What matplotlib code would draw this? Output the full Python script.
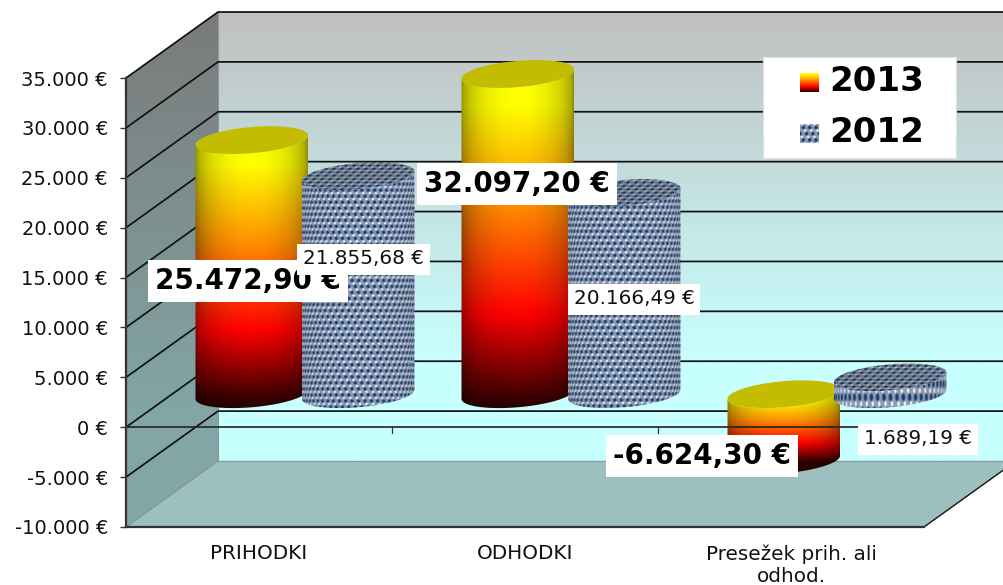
import numpy as np
import matplotlib
matplotlib.use('Agg')
import matplotlib.pyplot as plt
from matplotlib.patches import Polygon, Rectangle
from matplotlib.path import Path
from matplotlib.ticker import FuncFormatter

# data
categories = ['PRIHODKI', 'ODHODKI', 'Presežek prih. ali\nodhod.']
values_2013 = [25472.90, 32097.20, -6624.30]
values_2012 = [21855.68, 20166.49, 1689.19]
y_ticks = list(range(-10000, 35001, 5000))

W, H = 1004, 585
AX_L, AX_R, AX_T, AX_B = 126, 924, 78, 527
PX_X = 3 / (AX_R - AX_L)           # category units per pixel
PX_Y = 45000 / (AX_B - AX_T)       # euro per pixel
DX = 92 * PX_X                     # depth of the 3d box
DY = 66 * PX_Y
RX, RY, TILT = 56.5, 13.0, np.radians(5)

fig = plt.figure(figsize=(W / 100, H / 100), dpi=100)
ax = fig.add_axes([AX_L / W, 1 - AX_B / H, (AX_R - AX_L) / W, (AX_B - AX_T) / H])
ax.patch.set_visible(False)


def money(v, dec=0):
    s = f'{v:,.{dec}f}'.replace(',', '#').replace('.', ',').replace('#', '.')
    return s + ' €'


def clipped_image(rgb, extent, path, z, interp='bilinear'):
    im = ax.imshow(rgb, extent=extent, aspect='auto', zorder=z, interpolation=interp)
    im.set_clip_box(fig.bbox)
    im.set_clip_path(path, ax.transData)
    return im


def ramp(t, stops):
    t = np.asarray(t, dtype=float)
    pos = [s[0] for s in stops]
    return np.stack([np.interp(t, pos, [s[1][c] for s in stops]) for c in range(3)], axis=-1) / 255


def ellipse_pts(cx, cy, t):
    ex = RX * np.cos(t) * np.cos(TILT) - RY * np.sin(t) * np.sin(TILT)
    ey = RX * np.cos(t) * np.sin(TILT) + RY * np.sin(t) * np.cos(TILT)
    return np.column_stack([cx + ex * PX_X, cy + ey * PX_Y])


FIRE = [(0, (255, 255, 0)), (0.1, (255, 255, 0)), (0.4, (255, 145, 0)),
        (0.75, (255, 0, 0)), (1.03, (45, 0, 0))]
NAVY = np.array([28, 62, 112]) / 255


def mesh(xp, yp, cx=6.5, cy=6.0):
    # staggered dark blobs, white glints sit diagonally between them
    row = np.floor(yp / cy)
    shift = 0.5 * (row % 2)
    fx = (xp / cx + shift) % 1 - 0.5
    fy = (yp / cy) % 1 - 0.5
    dark = np.clip((0.34 - np.sqrt(fx ** 2 + fy ** 2)) / 0.12, 0, 1)
    row2 = np.floor(yp / cy + 0.5)
    gx = (xp / cx + 0.5 * (row2 % 2) + 0.25) % 1 - 0.5
    gy = (yp / cy + 0.5) % 1 - 0.5
    glint = np.clip((0.24 - np.sqrt(gx ** 2 + gy ** 2)) / 0.1, 0, 1)
    rgb = np.ones(xp.shape + (3,)) * np.array([0.55, 0.61, 0.7])
    rgb = rgb * (1 - glint[..., None]) + np.array([0.96, 0.97, 0.98]) * glint[..., None]
    return rgb * (1 - dark[..., None]) + NAVY * dark[..., None]


def cylinder(center, value, kind, z):
    cx = center + DX / 2
    y0, y1 = DY / 2, value + DY / 2
    top, bot = max(y0, y1), min(y0, y1)
    arc = np.linspace(0, np.pi, 60)
    # body outline: lower half of the cap, then lower half of the base
    left_to_right = ellipse_pts(cx, top, np.pi + arc)
    base = ellipse_pts(cx, bot, arc + np.pi)[::-1]
    pts = np.vstack([left_to_right, base, left_to_right[:1]])
    body = Path(pts)
    # image grid in pixels
    nx = int(2 * RX) * 2
    height_px = (top - bot) / PX_Y
    ny = int(height_px + 2 * RY + 12) * 2
    xp = (np.arange(nx) + 0.5) / nx * 2 - 1
    yp = (np.arange(ny) + 0.5) / 2 - RY - 6
    u, yy = np.meshgrid(xp, yp)
    extent = (cx - RX * PX_X, cx + RX * PX_X,
              bot - (RY + 6) * PX_Y, top + (RY + 6) * PX_Y)
    shade = 0.5 + 0.5 * np.sqrt(np.clip(1 - u ** 2, 0, 1))
    if kind == 2013:
        t = yy / max(height_px, 1)
        rgb = ramp(t, FIRE) * shade[..., None]
    else:
        ang = np.arcsin(np.clip(u, -1, 1)) * RX
        # on a short cylinder the texture gets stretched to its height
        cell_y = 6.0 if height_px > 60 else 13.0
        rgb = mesh(ang, yy, 6.5, cell_y) * (0.75 + 0.25 * shade[..., None])
    clipped_image(np.clip(rgb, 0, 1), extent, body, z)
    # cap
    cap_pts = ellipse_pts(cx, top, np.linspace(0, 2 * np.pi, 120))
    if kind == 2013:
        ax.add_patch(Polygon(cap_pts, closed=True, fc='#c4bc00', ec='none', zorder=z + 0.1, clip_on=False))
    else:
        nx2, ny2 = int(2 * RX) * 2, int(2 * RY + 12) * 2
        xs = (np.arange(nx2) + 0.5) / 2
        ys = (np.arange(ny2) + 0.5) / 2
        xx, yc = np.meshgrid(xs, ys)
        tex = mesh(xx, yc, 8.0, 3.4) * 0.8
        ext = (cx - RX * PX_X, cx + RX * PX_X, top - (RY + 6) * PX_Y, top + (RY + 6) * PX_Y)
        clipped_image(tex, ext, Path(cap_pts), z + 0.1)


# walls and floor
x_l, x_r = 0, 3
y_b, y_t = -10000, 35000
back = Path([(DX, y_b + DY), (x_r + DX, y_b + DY), (x_r + DX, y_t + DY), (DX, y_t + DY), (DX, y_b + DY)])
vv = np.linspace(1, 0, 256)
WALL = [(0, (200, 255, 255)), (0.222, (200, 255, 255)), (1, (192, 192, 192))]
clipped_image(ramp(vv, WALL)[:, None, :], (DX, x_r + DX, y_b + DY, y_t + DY), back, 1)

side = Path([(0, y_b), (DX, y_b + DY), (DX, y_t + DY), (0, y_t), (0, y_b)])
SIDE = [(0, (132, 168, 166)), (0.222, (130, 165, 165)), (1, (122, 122, 122))]
clipped_image(ramp(vv, SIDE)[:, None, :], (0, DX, y_b, y_t + DY), side, 1.1)

ax.add_patch(Polygon([(0, y_b), (x_r, y_b), (x_r + DX, y_b + DY), (DX, y_b + DY)], closed=True,
                     fc='#9cc0c0', ec='none', zorder=1.2, clip_on=False))
# edges of the box
ax.plot([DX, x_r + DX], [y_b + DY] * 2, color='#84a0a0', lw=1.0, zorder=1.3, clip_on=False)
ax.plot([DX, DX], [y_b + DY, y_t + DY], color='#8a9a9a', lw=0.8, zorder=1.3, clip_on=False)
ax.plot([0, DX], [y_b, y_b + DY], color='#7f9090', lw=0.8, zorder=1.3, clip_on=False)
ax.plot([x_r, x_r + DX], [y_b, y_b + DY], color='#111111', lw=1.0, zorder=1.3, clip_on=False)

# grid lines run along the side wall and the back wall
for v in y_ticks[1:]:
    ax.plot([0, DX, x_r + DX], [v, v + DY, v + DY], color='#111111', lw=1.25, zorder=2,
            clip_on=False, solid_joinstyle='miter')

# cylinders
for i in range(3):
    c = i + 0.5
    cylinder(c - 0.2, values_2013[i], 2013, 3 + i)
    cylinder(c + 0.2, values_2012[i], 2012, 3.5 + i)

# zero line with its tick marks
ax.axhline(0, color='#222222', lw=1.2, zorder=8)
for i in (1, 2, 3):
    ax.plot([i, i], [0, -5.5 * PX_Y], color='#333333', lw=0.9, zorder=8, clip_on=False)

# axes
ax.set_xlim(x_l, x_r)
ax.set_ylim(y_b, y_t)
for s in ('top', 'right'):
    ax.spines[s].set_visible(False)
for s in ('left', 'bottom'):
    ax.spines[s].set_color('#333333')
    ax.spines[s].set_linewidth(1.6)
    ax.spines[s].set_zorder(9)
ax.set_yticks(y_ticks)
ax.yaxis.set_major_formatter(FuncFormatter(lambda v, p: money(v)))
ax.tick_params(axis='y', length=4, width=1, color='#333333', labelsize=14, pad=9, labelcolor='#111111')
ax.set_xticks([0.5, 1.5, 2.5])
ax.set_xticklabels(categories)
ax.tick_params(axis='x', length=0, labelsize=14.4, pad=12.5, labelcolor='#111111')

# value labels, big ones first because the small ones sit on top of them
big_xy = [(248, 281), (517, 184), (702, 456)]
small_xy = [(364, 259), (634, 299), (918, 439)]
for v, (x, y) in zip(values_2013, big_xy):
    fig.text(x / W, 1 - y / H, money(v, 2), fontsize=20, fontweight='bold', ha='center', va='center',
             color='black', zorder=3, bbox=dict(boxstyle='square,pad=0.25', fc='white', ec='none'))
for v, (x, y) in zip(values_2012, small_xy):
    fig.text(x / W, 1 - y / H, money(v, 2), fontsize=14.4, ha='center', va='center',
             color='#111111', zorder=3.5, bbox=dict(boxstyle='square,pad=0.3', fc='white', ec='none'))

# legend
fig.add_artist(Rectangle((763 / W, 1 - 158 / H), 193 / W, 101 / H, transform=fig.transFigure,
                         fc='white', ec='#dde2e2', lw=0.8, zorder=4))
for year, y in ((2013, 82), (2012, 133)):
    fig.text(877 / W, 1 - y / H, str(year), fontsize=24.5, fontweight='bold', ha='center', va='center',
             color='black', zorder=6)
    sw = fig.add_axes([800 / W, 1 - (y + 10) / H, 19 / W, 19 / H], zorder=5)
    sw.axis('off')
    if year == 2013:
        sw.imshow(ramp(np.linspace(0.05, 1.03, 64), FIRE)[:, None, :], aspect='auto')
    else:
        gy, gx = np.mgrid[0:38, 0:38] / 2
        sw.imshow(mesh(gx, gy, 6.3, 6.3), aspect='auto')

fig.savefig('out.png', dpi=100)
